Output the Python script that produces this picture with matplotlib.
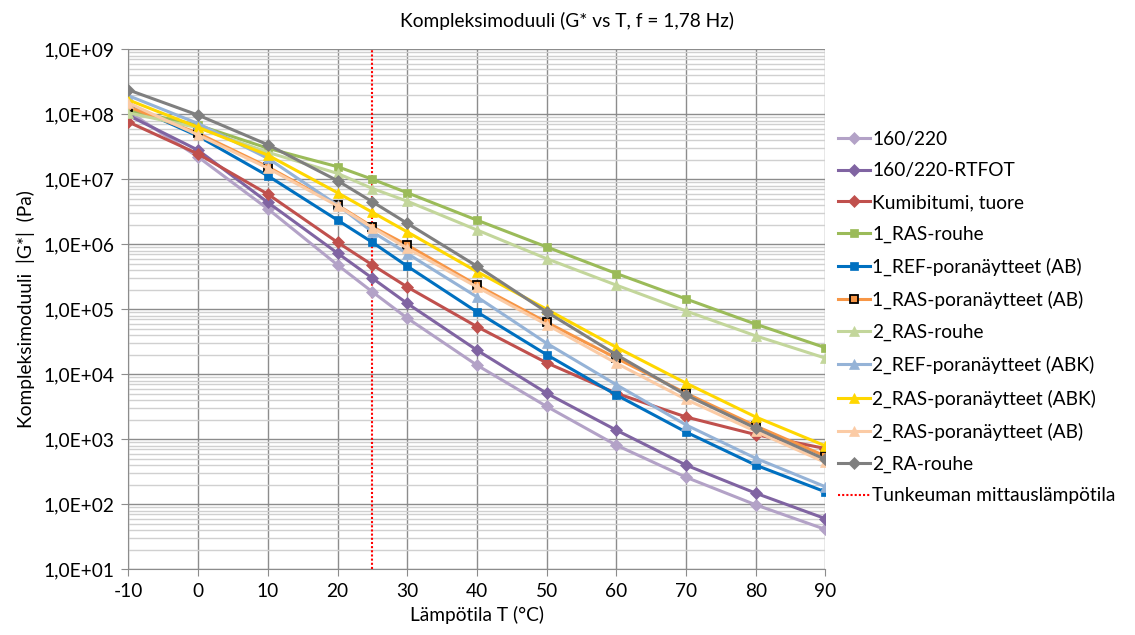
import matplotlib
matplotlib.use("Agg")
import matplotlib.pyplot as plt
from matplotlib.ticker import FixedLocator, FuncFormatter, NullFormatter

plt.rcParams['font.family'] = ['Lato', 'DejaVu Sans']
plt.rcParams['axes.unicode_minus'] = False

# Lämpötilat (°C)
T = [-10, 0, 10, 20, 25, 30, 40, 50, 60, 70, 80, 90]

# |G*| (Pa) eri näytteille
g_160_220 = [1.10e8, 2.2e7, 3.5e6, 4.8e5, 1.85e5, 7.3e4, 1.38e4, 3.2e3, 8.1e2, 2.6e2, 98, 41]
g_160_220_rtfot = [9.6e7, 2.8e7, 4.4e6, 7.3e5, 3.0e5, 1.23e5, 2.35e4, 5.1e3, 1.38e3, 4.0e2, 1.48e2, 60]
g_kumibitumi = [7.6e7, 2.45e7, 5.9e6, 1.07e6, 4.8e5, 2.2e5, 5.4e4, 1.5e4, 5.1e3, 2.2e3, 1.18e3, 7.2e2]
g_1_ras_rouhe = [1.15e8, 6.8e7, 3.0e7, 1.56e7, 1.0e7, 6.2e6, 2.35e6, 9.1e5, 3.55e5, 1.44e5, 5.9e4, 2.56e4]
g_1_ref_ab = [1.4e8, 4.6e7, 1.13e7, 2.35e6, 1.07e6, 4.6e5, 9.1e4, 2.0e4, 4.8e3, 1.29e3, 4.0e2, 1.55e2]
g_1_ras_ab = [1.3e8, 5.1e7, 1.55e7, 4.0e6, 1.86e6, 9.7e5, 2.35e5, 6.3e4, 1.77e4, 5.1e3, 1.6e3, 5.5e2]
g_2_ras_rouhe = [1.05e8, 6.2e7, 2.6e7, 1.23e7, 7.2e6, 4.6e6, 1.66e6, 6.0e5, 2.35e5, 9.4e4, 3.9e4, 1.77e4]
g_2_ref_abk = [1.93e8, 7.2e7, 2.1e7, 4.0e6, 1.55e6, 7.2e5, 1.55e5, 3.0e4, 6.9e3, 1.66e3, 5.1e2, 1.86e2]
g_2_ras_abk = [1.66e8, 6.3e7, 2.35e7, 6.2e6, 3.1e6, 1.55e6, 3.8e5, 1.0e5, 2.6e4, 7.3e3, 2.2e3, 7.9e2]
g_2_ras_ab = [1.49e8, 4.8e7, 1.48e7, 3.9e6, 1.8e6, 8.7e5, 2.2e5, 5.8e4, 1.48e4, 4.1e3, 1.32e3, 4.4e2]
g_2_ra_rouhe = [2.37e8, 9.7e7, 3.4e7, 9.5e6, 4.5e6, 2.1e6, 4.6e5, 9.1e4, 2.0e4, 4.8e3, 1.48e3, 4.9e2]

# Tunkeuman mittauslämpötila
T_tunk = 25
y_min, y_max = 1e1, 1e9
x_ticks = [-10, 0, 10, 20, 30, 40, 50, 60, 70, 80, 90]

series = [
    ("160/220", g_160_220, "#B3A2C7", "D", None),
    ("160/220-RTFOT", g_160_220_rtfot, "#8064A2", "D", None),
    ("Kumibitumi, tuore", g_kumibitumi, "#C0504D", "D", None),
    ("1_RAS-rouhe", g_1_ras_rouhe, "#9BBB59", "s", None),
    ("1_REF-poranäytteet (AB)", g_1_ref_ab, "#0070C0", "s", None),
    ("1_RAS-poranäytteet (AB)", g_1_ras_ab, "#F79646", "s", "black"),
    ("2_RAS-rouhe", g_2_ras_rouhe, "#C3D69B", "^", None),
    ("2_REF-poranäytteet (ABK)", g_2_ref_abk, "#95B3D7", "^", None),
    ("2_RAS-poranäytteet (ABK)", g_2_ras_abk, "#FFD700", "^", None),
    ("2_RAS-poranäytteet (AB)", g_2_ras_ab, "#FBCBA5", "^", None),
    ("2_RA-rouhe", g_2_ra_rouhe, "#7F7F7F", "D", None),
]
marker_size = {"D": 6.3, "s": 6.0, "^": 7.2}

FS = 13.8

fig = plt.figure(figsize=(11.35, 6.35), dpi=100)
ax = fig.add_axes([0.1132, 0.1035, 0.6141, 0.8189])

handles = []
for name, vals, col, mk, edge in series:
    h, = ax.plot(T, vals, color=col, lw=2.2, marker=mk, markersize=marker_size[mk],
                 markerfacecolor=col, markeredgecolor=edge or col,
                 markeredgewidth=1.3 if edge else 0.5, label=name, zorder=3)
    handles.append(h)

h, = ax.plot([T_tunk, T_tunk], [y_min, y_max], color="#FF0000", lw=1.5,
             ls=(0, (1, 1)), label="Tunkeuman mittauslämpötila", zorder=2)
handles.append(h)

ax.set_yscale("log")
ax.set_xlim(-10, 90)
ax.set_ylim(y_min, y_max)

decades = [10.0 ** k for k in range(1, 10)]
minors = [m * d for d in decades[:-1] for m in range(2, 10)]
ax.xaxis.set_major_locator(FixedLocator(x_ticks))
ax.yaxis.set_major_locator(FixedLocator(decades))
ax.yaxis.set_minor_locator(FixedLocator(minors))
ax.yaxis.set_minor_formatter(NullFormatter())
ax.yaxis.set_major_formatter(FuncFormatter(lambda v, p: f"{v:.1E}".replace(".", ",")))

ax.grid(True, which="major", axis="both", color="#8C8C8C", lw=1.0, zorder=0)
ax.grid(True, which="minor", axis="y", color="#D0D0D0", lw=1.0, zorder=0)
ax.set_axisbelow(True)

for s in ["top", "right"]:
    ax.spines[s].set_visible(False)
for s in ["left", "bottom"]:
    ax.spines[s].set_color("#8C8C8C")
ax.tick_params(which="major", length=5, color="#8C8C8C", labelsize=FS, pad=5)
ax.tick_params(which="minor", length=0)

ax.set_xlabel("Lämpötila T (°C)", fontsize=FS, labelpad=4)
ax.set_ylabel("Kompleksimoduuli  |G*|  (Pa)", fontsize=FS, labelpad=6)
fig.text(0.5, 0.967, "Kompleksimoduuli (G* vs T, f = 1,78 Hz)", ha="center",
         va="center", fontsize=FS)

fig.legend(handles=handles, loc="center left", bbox_to_anchor=(0.738, 0.50),
           frameon=False, fontsize=FS, handlelength=1.7, handletextpad=0.1,
           labelspacing=0.77, borderaxespad=0, borderpad=0)

fig.savefig("out.png", dpi=100)
